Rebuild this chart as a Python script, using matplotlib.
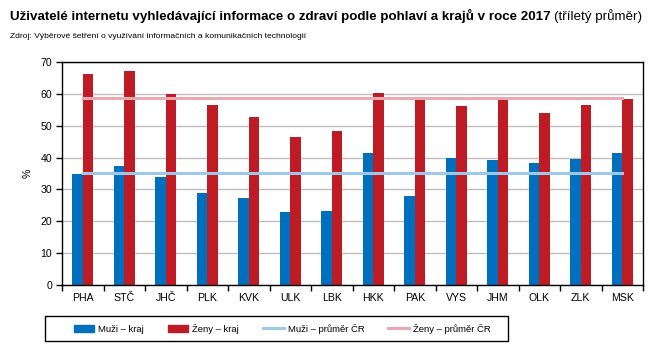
import matplotlib
matplotlib.use("Agg")
import matplotlib.pyplot as plt
from matplotlib.patches import Rectangle, Patch
from matplotlib.lines import Line2D
import numpy as np

plt.rcParams['font.family'] = ['Liberation Sans', 'DejaVu Sans']

regions = ["PHA", "STČ", "JHČ", "PLK", "KVK", "ULK", "LBK", "HKK", "PAK", "VYS", "JHM", "OLK", "ZLK", "MSK"]
men = [34.8, 37.4, 33.9, 28.9, 27.3, 22.9, 23.2, 41.4, 27.9, 39.9, 39.2, 38.3, 39.5, 41.4]
women = [66.2, 67.2, 60.0, 56.5, 52.7, 46.5, 48.3, 60.3, 58.1, 56.2, 58.1, 54.0, 56.5, 58.4]
men_avg = 35.1
women_avg = 58.6
yticks = [0, 10, 20, 30, 40, 50, 60, 70]

c_men = "#0070BE"
c_women = "#BE1B24"
c_men_avg = "#9DC8E8"
c_women_avg = "#E8AAB0"

fig = plt.figure(figsize=(6.62, 3.56), dpi=100)
ax = fig.add_axes([62/662, 1-285/356, (643-62)/662, (285-62)/356])

x = np.arange(len(regions))
w = 0.25
ax.bar(x - w/2, men, width=w, color=c_men, zorder=2)
ax.bar(x + w/2, women, width=w, color=c_women, zorder=2)
ax.plot([x[0], x[-1]], [men_avg, men_avg], color=c_men_avg, lw=2.2, zorder=3, solid_capstyle='projecting')
ax.plot([x[0], x[-1]], [women_avg, women_avg], color=c_women_avg, lw=2.2, zorder=3, solid_capstyle='projecting')

ax.set_xlim(-0.5, len(regions) - 0.5)
ax.set_ylim(0, 70)
ax.set_yticks(yticks)
ax.set_yticklabels([str(t) for t in yticks], fontsize=7.6)
ax.yaxis.grid(True, color="#BEBEBE", lw=1, zorder=0)
ax.set_axisbelow(True)
ax.set_xticks(x)
ax.set_xticklabels(regions, fontsize=7.6)
ax.set_xticks(np.arange(-0.5, len(regions)), minor=True)
ax.tick_params(axis='x', which='major', length=0, pad=6)
ax.tick_params(axis='x', which='minor', length=4, width=1, direction='out')
ax.tick_params(axis='y', length=4, width=1, direction='out', pad=3)
for s in ax.spines.values():
    s.set_color('black')
    s.set_linewidth(1)
ax.set_ylabel("%", fontsize=7.6, labelpad=6)

fig.text(10/662, 1-16/356, "Uživatelé internetu vyhledávající informace o zdraví podle pohlaví a krajů v roce 2017",
         fontsize=9.6, fontweight='bold', va='center', ha='left')
t = fig.texts[-1]
fig.canvas.draw()
bb = t.get_window_extent()
fig.text(bb.x1/662 + 3/662, 1-16/356, "(tříletý průměr)", fontsize=9.6, va='center', ha='left')
fig.text(10/662, 1-37/356, "Zdroj: Výběrové šetření o využívání informačních a komunikačních technologií",
         fontsize=6.1, va='center', ha='left')

# legend frame
fig.patches.append(Rectangle((45/662, 1-341/356), 463/662, 25/356, transform=fig.transFigure,
                             fill=False, edgecolor='black', lw=1))
handles = [Patch(color=c_men), Patch(color=c_women),
           Line2D([], [], color=c_men_avg, lw=2.2), Line2D([], [], color=c_women_avg, lw=2.2)]
labels = ["Muži – kraj", "Ženy – kraj", "Muži – průměr ČR", "Ženy – průměr ČR"]
fig.legend(handles, labels, loc='center', bbox_to_anchor=(282/662, 1-328.5/356), ncol=4,
           frameon=False, fontsize=6.8, handlelength=2.2, handleheight=0.7, handletextpad=0.42,
           columnspacing=2.5)

fig.savefig("out.png", dpi=100)
